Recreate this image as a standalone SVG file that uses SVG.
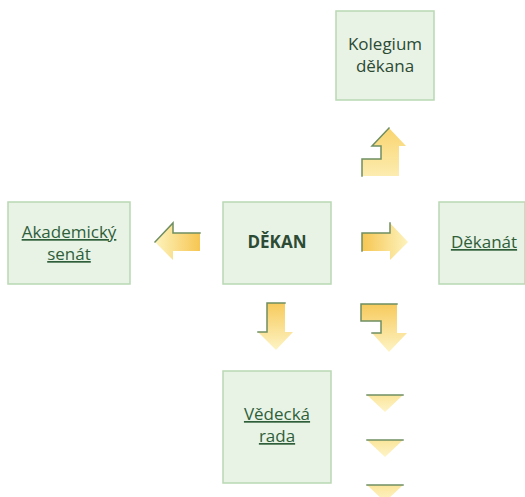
<svg xmlns="http://www.w3.org/2000/svg" width="525" height="497" viewBox="0 0 525 497">
<defs>
<linearGradient id="gL" x1="0" y1="0" x2="1" y2="0"><stop offset="0" stop-color="#fdf3bd"/><stop offset="1" stop-color="#f6c652"/></linearGradient>
<linearGradient id="gR" x1="0" y1="0" x2="1" y2="0"><stop offset="0" stop-color="#f6c652"/><stop offset="1" stop-color="#fdf3bd"/></linearGradient>
<linearGradient id="gD" x1="0" y1="0" x2="0" y2="1"><stop offset="0" stop-color="#f7ca5c"/><stop offset="1" stop-color="#fdf4c4"/></linearGradient>
<linearGradient id="gU" x1="0" y1="0" x2="0" y2="1"><stop offset="0" stop-color="#f9d470"/><stop offset="1" stop-color="#fcecb0"/></linearGradient>
<linearGradient id="gT" x1="0" y1="0" x2="0" y2="1"><stop offset="0" stop-color="#fbe59a"/><stop offset="1" stop-color="#fdf4c8"/></linearGradient>
</defs>
<style>
.box{fill:#e8f3e6;stroke:#b8d8b2;stroke-width:1.5}
.t{font-family:"Open Sans","Noto Sans",sans-serif;font-size:17px;text-anchor:middle;fill:#2c4a34}
.lk{fill:#2f5f3a;text-decoration:underline}
.b{font-weight:bold}
.edge{fill:none;stroke:#6f8f62;stroke-width:1.5;stroke-linecap:square}
</style>
<g id="connectors">
<g id="arrow-left"><polygon points="155,242 173,223 173,233 200,233 200,251 173,251 173,260" fill="url(#gL)"/><polyline class="edge" points="155,242 173,223 173,233 200,233"/></g>
<g id="arrow-right"><polygon points="362,233 390,233 390,223 408,242 390,260 390,251 362,251" fill="url(#gR)"/><polyline class="edge" points="362,251 362,233 390,233 390,223"/></g>
<g id="arrow-up"><polygon points="389,128 406,146 399,146 399,176 362,176 362,159 381,159 381,146 372,146" fill="url(#gU)"/><polyline class="edge" points="362,176 362,159 381,159 381,146 372,146 389,128"/></g>
<g id="arrow-bent-down"><polygon points="361,304 397,304 397,333 407,333 389,352 372,333 381,333 381,321 361,321" fill="url(#gD)"/><polyline class="edge" points="397,304 361,304 361,321 381,321 381,333 372,333"/></g>
<g id="arrow-down"><polygon points="267,303 285,303 285,332 293,332 276,350 258,332 267,332" fill="url(#gD)"/><polyline class="edge" points="285,303 267,303 267,332 258,332"/></g>
<g id="tri1"><polygon points="367,395 403,395 385,412" fill="url(#gT)"/><line class="edge" x1="367" y1="395" x2="403" y2="395"/></g>
<g id="tri2"><polygon points="367,440 403,440 385,457" fill="url(#gT)"/><line class="edge" x1="367" y1="440" x2="403" y2="440"/></g>
<g id="tri3"><polygon points="367,485 403,485 385,502" fill="url(#gT)"/><line class="edge" x1="367" y1="485" x2="403" y2="485"/></g>
</g>
<g id="kolegium"><rect class="box" x="336" y="11" width="98" height="89"/><text class="t" x="385" y="50">Kolegium</text><text class="t" x="385" y="72">děkana</text></g>
<g id="akademicky-senat"><rect class="box" x="8" y="202" width="122" height="82"/><text class="t lk" x="69" y="238">Akademický</text><text class="t lk" x="69" y="260">senát</text></g>
<g id="dekan"><rect class="box" x="223" y="202" width="108" height="82"/><text class="t b" x="277" y="248">DĚKAN</text></g>
<g id="dekanat"><rect class="box" x="439" y="202" width="86" height="82"/><text class="t lk" x="484" y="248">Děkanát</text></g>
<g id="vedecka-rada"><rect class="box" x="223" y="371" width="108" height="112"/><text class="t lk" x="277" y="420">Vědecká</text><text class="t lk" x="277" y="442">rada</text></g>
</svg>
